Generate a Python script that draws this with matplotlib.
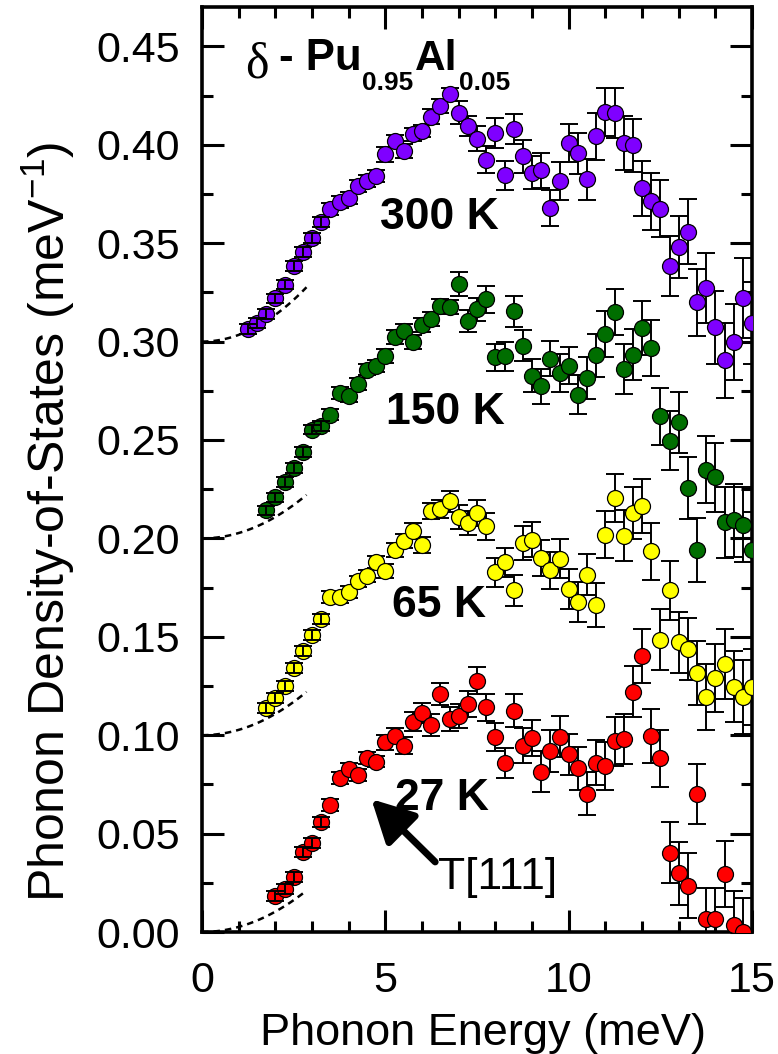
import matplotlib
matplotlib.use("Agg")
import matplotlib.pyplot as plt
from matplotlib.ticker import MultipleLocator, FormatStrFormatter

plt.rcParams['font.family'] = ['Liberation Sans', 'DejaVu Sans']
plt.rcParams['mathtext.fontset'] = 'custom'
plt.rcParams['mathtext.rm'] = 'Liberation Sans'
plt.rcParams['mathtext.bf'] = 'Liberation Sans:bold'

# ---------------- data ----------------
E_300 = [1.25, 1.50, 1.75, 2.00, 2.25, 2.50, 2.75, 3.00, 3.25, 3.50,
         3.75, 4.00, 4.25, 4.50, 4.75, 5.00, 5.25, 5.50, 5.75, 6.00,
         6.25, 6.50, 6.75, 7.00, 7.25, 7.50, 7.75, 8.00, 8.25, 8.50,
         8.75, 9.00, 9.25, 9.50, 9.75, 10.00, 10.25, 10.50, 10.75, 11.00,
         11.25, 11.50, 11.75, 12.00, 12.25, 12.50, 12.75, 13.00, 13.25, 13.50,
         13.75, 14.00, 14.25, 14.50, 14.75, 15.00]
g_300 = [0.3066, 0.3095, 0.3141, 0.3219, 0.3290, 0.3386, 0.3456, 0.3527, 0.3607, 0.3675,
         0.3710, 0.3729, 0.3790, 0.3815, 0.3841, 0.3951, 0.4019, 0.3968, 0.4053, 0.4069,
         0.4142, 0.4197, 0.4256, 0.4163, 0.4095, 0.4030, 0.3925, 0.4061, 0.3844, 0.4081,
         0.3942, 0.3858, 0.3871, 0.3680, 0.3815, 0.4007, 0.3956, 0.3824, 0.4044, 0.4166,
         0.4163, 0.4010, 0.3997, 0.3778, 0.3713, 0.3676, 0.3383, 0.3480, 0.3558, 0.3200,
         0.3273, 0.3073, 0.2905, 0.2998, 0.3222, 0.3095]
err_300 = [0.0025, 0.0025, 0.0025, 0.0025, 0.0025, 0.0025, 0.0025, 0.0025, 0.0025, 0.0030,
           0.0030, 0.0030, 0.0030, 0.0030, 0.0030, 0.0037, 0.0030, 0.0036, 0.0034, 0.0030,
           0.0038, 0.0038, 0.0034, 0.0060, 0.0050, 0.0063, 0.0068, 0.0075, 0.0074, 0.0076,
           0.0083, 0.0085, 0.0089, 0.0092, 0.0097, 0.0097, 0.0105, 0.0105, 0.0119, 0.0123,
           0.0127, 0.0136, 0.0136, 0.0139, 0.0144, 0.0146, 0.0153, 0.0156, 0.0166, 0.0170,
           0.0178, 0.0186, 0.0190, 0.0195, 0.0203, 0.0210]

E_150 = [1.75, 2.00, 2.25, 2.50, 2.75, 3.00, 3.25, 3.50, 3.75, 4.00,
         4.25, 4.50, 4.75, 5.00, 5.25, 5.50, 5.75, 6.00, 6.25, 6.50,
         6.75, 7.00, 7.25, 7.50, 7.75, 8.00, 8.25, 8.50, 8.75, 9.00,
         9.25, 9.50, 9.75, 10.00, 10.25, 10.50, 10.75, 11.00, 11.25, 11.50,
         11.75, 12.00, 12.25, 12.50, 12.75, 13.00, 13.25, 13.50, 13.75, 14.00,
         14.25, 14.50, 14.75, 15.00]
g_150 = [0.2142, 0.2208, 0.2285, 0.2358, 0.2437, 0.2553, 0.2573, 0.2629, 0.2739, 0.2725,
         0.2785, 0.2858, 0.2875, 0.2925, 0.3024, 0.3052, 0.2997, 0.3086, 0.3115, 0.3180,
         0.3176, 0.3293, 0.3103, 0.3163, 0.3214, 0.2920, 0.2925, 0.3154, 0.2980, 0.2827,
         0.2773, 0.2914, 0.2841, 0.2878, 0.2730, 0.2815, 0.2930, 0.3039, 0.3151, 0.2861,
         0.2934, 0.3069, 0.2968, 0.2620, 0.2497, 0.2590, 0.2256, 0.1942, 0.2349, 0.2310,
         0.2081, 0.2091, 0.2069, 0.1939]
err_150 = [0.0025, 0.0025, 0.0025, 0.0025, 0.0025, 0.0025, 0.0025, 0.0030, 0.0030, 0.0030,
           0.0030, 0.0030, 0.0030, 0.0035, 0.0035, 0.0035, 0.0035, 0.0035, 0.0035, 0.0035,
           0.0035, 0.0060, 0.0055, 0.0060, 0.0070, 0.0070, 0.0075, 0.0078, 0.0080, 0.0085,
           0.0088, 0.0090, 0.0095, 0.0095, 0.0100, 0.0105, 0.0110, 0.0115, 0.0118, 0.0125,
           0.0130, 0.0135, 0.0142, 0.0145, 0.0150, 0.0155, 0.0160, 0.0163, 0.0170, 0.0175,
           0.0180, 0.0185, 0.0190, 0.0195]

E_65 = [1.75, 2.00, 2.25, 2.50, 2.75, 3.00, 3.25, 3.50, 3.75, 4.00,
        4.25, 4.50, 4.75, 5.00, 5.25, 5.50, 5.75, 6.00, 6.25, 6.50,
        6.75, 7.00, 7.25, 7.50, 7.75, 8.00, 8.25, 8.50, 8.75, 9.00,
        9.25, 9.50, 9.75, 10.00, 10.25, 10.50, 10.75, 11.00, 11.25, 11.50,
        11.75, 12.00, 12.25, 12.50, 12.75, 13.00, 13.25, 13.50, 13.75, 14.00,
        14.25, 14.50, 14.75, 15.00]
g_65 = [0.1137, 0.1188, 0.1251, 0.1341, 0.1429, 0.1510, 0.1590, 0.1702, 0.1702, 0.1727,
        0.1781, 0.1810, 0.1878, 0.1836, 0.1942, 0.1988, 0.2039, 0.1968, 0.2141, 0.2151,
        0.2188, 0.2108, 0.2078, 0.2129, 0.2061, 0.1827, 0.1878, 0.1736, 0.1976, 0.1993,
        0.1900, 0.1837, 0.1897, 0.1742, 0.1675, 0.1815, 0.1663, 0.2019, 0.2205, 0.2014,
        0.2129, 0.2163, 0.1934, 0.1485, 0.1736, 0.1471, 0.1439, 0.1315, 0.1193, 0.1290,
        0.1361, 0.1247, 0.1193, 0.1244]
err_65 = [0.0025, 0.0025, 0.0025, 0.0025, 0.0025, 0.0025, 0.0025, 0.0030, 0.0030, 0.0030,
          0.0030, 0.0030, 0.0030, 0.0035, 0.0035, 0.0035, 0.0040, 0.0040, 0.0040, 0.0045,
          0.0055, 0.0060, 0.0060, 0.0065, 0.0070, 0.0072, 0.0075, 0.0080, 0.0085, 0.0090,
          0.0090, 0.0095, 0.0098, 0.0100, 0.0102, 0.0105, 0.0112, 0.0118, 0.0122, 0.0128,
          0.0132, 0.0138, 0.0145, 0.0155, 0.0150, 0.0155, 0.0158, 0.0162, 0.0168, 0.0172,
          0.0178, 0.0182, 0.0188, 0.0192]

E_27 = [2.00, 2.25, 2.50, 2.75, 3.00, 3.25, 3.50, 3.75, 4.00, 4.25,
        4.50, 4.75, 5.00, 5.25, 5.50, 5.75, 6.00, 6.25, 6.50, 6.75,
        7.00, 7.25, 7.50, 7.75, 8.00, 8.25, 8.50, 8.75, 9.00, 9.25,
        9.50, 9.75, 10.00, 10.25, 10.50, 10.75, 11.00, 11.25, 11.50, 11.75,
        12.00, 12.25, 12.50, 12.75, 13.00, 13.25, 13.50, 13.75, 14.00, 14.25,
        14.50, 14.75]
g_27 = [0.0183, 0.0217, 0.0278, 0.0408, 0.0451, 0.0561, 0.0646, 0.0781, 0.0827, 0.0798,
        0.0883, 0.0866, 0.0963, 0.0997, 0.0947, 0.1069, 0.1112, 0.1053, 0.1208, 0.1081,
        0.1098, 0.1158, 0.1276, 0.1141, 0.0990, 0.0858, 0.1125, 0.0947, 0.0985, 0.0815,
        0.0920, 0.0993, 0.0903, 0.0832, 0.0702, 0.0861, 0.0844, 0.0968, 0.0981, 0.1222,
        0.1403, 0.0997, 0.0883, 0.0403, 0.0298, 0.0236, 0.0702, 0.0064, 0.0064, 0.0295,
        0.0036, 0.0000]
err_27 = [0.0025, 0.0025, 0.0025, 0.0025, 0.0025, 0.0025, 0.0030, 0.0030, 0.0030, 0.0030,
          0.0030, 0.0030, 0.0040, 0.0040, 0.0045, 0.0050, 0.0050, 0.0055, 0.0055, 0.0060,
          0.0060, 0.0065, 0.0068, 0.0070, 0.0072, 0.0075, 0.0085, 0.0088, 0.0090, 0.0103,
          0.0105, 0.0105, 0.0105, 0.0110, 0.0110, 0.0115, 0.0120, 0.0125, 0.0125, 0.0130,
          0.0136, 0.0138, 0.0145, 0.0155, 0.0160, 0.0165, 0.0152, 0.0158, 0.0158, 0.0168,
          0.0170, 0.0175]

temps = ['300 K', '150 K', '65 K', '27 K']
colors = ['#7F00FF', '#006E00', '#FFFF00', '#FF0000']
series_E = [E_300, E_150, E_65, E_27]
series_g = [g_300, g_150, g_65, g_27]
series_err = [err_300, err_150, err_65, err_27]

# low-energy Debye-like dashed guide curves: offset + coef * E^2, up to E_max
debye_offset = [0.300, 0.200, 0.100, 0.000]
debye_coef = [0.00340, 0.00272, 0.00271, 0.00259]
debye_Emax = 2.85

# temperature label anchors (E, g)
label_pos = [(4.86, 0.357), (5.02, 0.258), (5.17, 0.160), (5.26, 0.062)]

# ---------------- figure ----------------
W, H = 778, 1054
fig = plt.figure(figsize=(W / 100, H / 100), dpi=100)
ax = fig.add_axes([202 / W, (H - 932) / H, 550 / W, 925 / H])

LOW_E = 3.3
for E, g, er, c in zip(series_E[::-1], series_g[::-1], series_err[::-1], colors[::-1]):
    hi = [i for i, e in enumerate(E) if e > LOW_E]
    lo = [i for i, e in enumerate(E) if e <= LOW_E]
    ax.errorbar([E[i] for i in hi], [g[i] for i in hi], yerr=[er[i] for i in hi],
                fmt='none', ecolor='k', elinewidth=1.4, capsize=6.5, capthick=1.4, zorder=2)
    ax.plot(E, g, 'o', ms=11.5, mfc=c, mec='k', mew=0.9, zorder=3, clip_on=True)
    ax.errorbar([E[i] for i in lo], [g[i] for i in lo], yerr=[er[i] for i in lo],
                fmt='none', ecolor='k', elinewidth=1.4, capsize=6.5, capthick=1.4, zorder=4)

# dashed guide curves
n = 60
Ecurve = [debye_Emax * k / (n - 1) for k in range(n)]
for off, a in zip(debye_offset, debye_coef):
    ax.plot(Ecurve, [off + a * e * e for e in Ecurve], color='k', lw=1.8,
            ls=(0, (2.6, 2.0)), zorder=1)

# temperature labels
for t, (x, y) in zip(temps, label_pos):
    ax.text(x, y, t, fontsize=32, fontweight='bold', ha='left', va='baseline', zorder=6)

# T[111] arrow
ax.annotate('', xy=(4.62, 0.0675), xytext=(6.36, 0.0356),
            arrowprops=dict(arrowstyle='-|>,head_length=0.8,head_width=0.42',
                            lw=5, color='k', mutation_scale=32, shrinkA=0, shrinkB=0),
            zorder=6)
ax.text(6.44, 0.0219, 'T[111]', fontsize=32, ha='left', va='baseline', zorder=6)

# axes
ax.set_xlim(0, 15)
ax.set_ylim(0, 0.47)
ax.xaxis.set_major_locator(MultipleLocator(5))
ax.xaxis.set_minor_locator(MultipleLocator(1))
ax.yaxis.set_major_locator(MultipleLocator(0.05))
ax.yaxis.set_minor_locator(MultipleLocator(0.025))
ax.yaxis.set_major_formatter(FormatStrFormatter('%.2f'))
ax.tick_params(which='both', direction='in', top=True, right=True, width=2.2, color='k')
ax.tick_params(which='major', length=16, labelsize=31)
ax.tick_params(axis='x', which='major', pad=21)
ax.tick_params(axis='y', which='major', pad=16)
ax.tick_params(which='minor', length=8)
for s in ax.spines.values():
    s.set_linewidth(2.6)

def fpos(x, y):
    return x / W, 1 - y / H

# axis labels
fig.text(*fpos(483, 1045), 'Phonon Energy (meV)', fontsize=32.5, ha='center', va='baseline')
fig.text(*fpos(48, 522), 'Phonon Density-of-States (meV$^{-1}$)', fontsize=36,
         rotation=90, ha='center', va='center')

# compound title
fig.text(*fpos(245, 77), 'δ', fontsize=36, family=['Liberation Serif', 'DejaVu Serif'],
         ha='left', va='baseline')
fig.text(*fpos(279, 70), '- Pu', fontsize=31.5, fontweight='bold', ha='left', va='baseline')
fig.text(*fpos(362, 90), '0.95', fontsize=19, fontweight='bold', ha='left', va='baseline')
fig.text(*fpos(415, 70), 'Al', fontsize=30.5, fontweight='bold', ha='left', va='baseline')
fig.text(*fpos(459, 90), '0.05', fontsize=19, fontweight='bold', ha='left', va='baseline')

fig.savefig('out.png', dpi=100)
